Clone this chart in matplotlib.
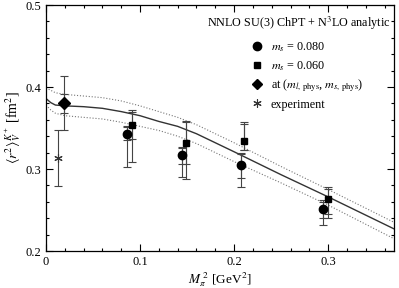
import matplotlib
matplotlib.use('Agg')
import matplotlib.pyplot as plt
from matplotlib.ticker import MultipleLocator
from matplotlib.lines import Line2D

plt.rcParams['font.family'] = ['Liberation Serif', 'DejaVu Serif']
plt.rcParams['mathtext.fontset'] = 'stix'

# fit band
fit_x = [0, 0.005, 0.01, 0.02, 0.04, 0.06, 0.08, 0.10, 0.12, 0.14, 0.16, 0.18, 0.20, 0.25, 0.30, 0.37]
fit_mid = [0.386, 0.381, 0.378, 0.377, 0.376, 0.374, 0.370, 0.365, 0.358, 0.352, 0.343, 0.332, 0.321, 0.293, 0.266, 0.227]
fit_up = [0.399, 0.396, 0.393, 0.391, 0.389, 0.387, 0.383, 0.377, 0.370, 0.363, 0.354, 0.343, 0.332, 0.303, 0.275, 0.235]
fit_lo = [0.378, 0.372, 0.368, 0.365, 0.363, 0.361, 0.357, 0.352, 0.347, 0.340, 0.331, 0.320, 0.309, 0.283, 0.256, 0.215]

# m_s = 0.080
c_x = [0.086, 0.145, 0.207, 0.295]
c_y = [0.343, 0.317, 0.305, 0.251]
c_in_lo = [0.335, 0.306, 0.289, 0.240]
c_in_hi = [0.351, 0.326, 0.318, 0.260]
c_out_lo = [0.303, 0.290, 0.278, 0.232]
c_out_hi = [0.352, 0.327, 0.320, 0.262]

# m_s = 0.060
s_x = [0.0915, 0.149, 0.211, 0.300]
s_y = [0.354, 0.332, 0.334, 0.263]
s_in_lo = [0.337, 0.306, 0.323, 0.245]
s_in_hi = [0.370, 0.357, 0.355, 0.276]
s_out_lo = [0.308, 0.288, 0.323, 0.240]
s_out_hi = [0.372, 0.359, 0.357, 0.278]

# physical point
d_x = [0.0195]
d_y = [0.380]
d_in_lo = [0.368]
d_in_hi = [0.391]
d_out_lo = [0.347]
d_out_hi = [0.414]

# experiment
e_x = [0.013]
e_y = [0.314]
e_lo = [0.279]
e_hi = [0.348]

fig = plt.figure(figsize=(3.99, 2.88), dpi=100)
ax = fig.add_axes([46 / 399, 1 - 251 / 288, 348 / 399, 246 / 288])

ax.plot(fit_x, fit_mid, color='#333333', lw=1.0)
ax.plot(fit_x, fit_up, color='#777777', lw=0.8, ls=':')
ax.plot(fit_x, fit_lo, color='#777777', lw=0.8, ls=':')


def err(xs, ys, lo, hi):
    yerr = [[y - l for y, l in zip(ys, lo)], [h - y for y, h in zip(ys, hi)]]
    ax.errorbar(xs, ys, yerr=yerr, fmt='none', ecolor='#444444', elinewidth=0.8,
                capsize=3, capthick=0.8)


for xs, ys, a, b, c, d in [(c_x, c_y, c_in_lo, c_in_hi, c_out_lo, c_out_hi),
                           (s_x, s_y, s_in_lo, s_in_hi, s_out_lo, s_out_hi),
                           (d_x, d_y, d_in_lo, d_in_hi, d_out_lo, d_out_hi)]:
    err(xs, ys, a, b)
    err(xs, ys, c, d)
err(e_x, e_y, e_lo, e_hi)

ax.plot(c_x, c_y, 'o', color='black', ms=6, ls='none', zorder=5)
ax.plot(s_x, s_y, 's', color='black', ms=5, ls='none', zorder=5)
ax.plot(d_x, d_y, 'D', color='black', ms=6, ls='none', zorder=5)
ax.plot(e_x, e_y, marker=(6, 2, 0), color='#333333', ms=6, mew=0.8, ls='none', zorder=5)

ax.set_xlim(0, 0.37)
ax.set_ylim(0.2, 0.5)
ax.xaxis.set_major_locator(MultipleLocator(0.1))
ax.xaxis.set_minor_locator(MultipleLocator(0.02))
ax.yaxis.set_major_locator(MultipleLocator(0.1))
ax.yaxis.set_minor_locator(MultipleLocator(0.02))
ax.set_xticks([0, 0.1, 0.2, 0.3])
ax.set_xticklabels(['0', '0.1', '0.2', '0.3'])
ax.set_yticks([0.2, 0.3, 0.4, 0.5])
ax.set_yticklabels(['0.2', '0.3', '0.4', '0.5'])
ax.tick_params(which='both', direction='in', top=True, right=True, labelsize=9, width=0.8)
ax.tick_params(which='major', length=5)
ax.tick_params(which='minor', length=2.5)
for s in ax.spines.values():
    s.set_linewidth(0.9)

ax.set_xlabel(r'$M_\pi^{\ 2}$ [GeV$^2$]', fontsize=9.5, labelpad=2)
ax.set_ylabel(r'$\langle r^2\rangle_V^{K^+}$ [fm$^2$]', fontsize=10, labelpad=2)

ax.text(0.99, 0.925, r'NNLO SU(3) ChPT + N$^3$LO analytic', transform=ax.transAxes,
        ha='right', va='center', fontsize=8.7)

handles = [Line2D([], [], marker='o', color='black', ls='none', ms=6),
           Line2D([], [], marker='s', color='black', ls='none', ms=5),
           Line2D([], [], marker='D', color='black', ls='none', ms=5.5),
           Line2D([], [], marker=(6, 2, 0), color='#333333', ls='none', ms=6, mew=0.8)]
labels = [r'$m_s$ = 0.080', r'$m_s$ = 0.060',
          r'at ($m_{l,\,\rm phys}$, $m_{s,\,\rm phys}$)', 'experiment']
ax.legend(handles, labels, loc='upper left', bbox_to_anchor=(0.59, 0.855),
          frameon=False, fontsize=8.7, handlelength=1.0, handletextpad=0.6,
          labelspacing=0.4, borderaxespad=0, borderpad=0)

fig.savefig('out.png', dpi=100)
